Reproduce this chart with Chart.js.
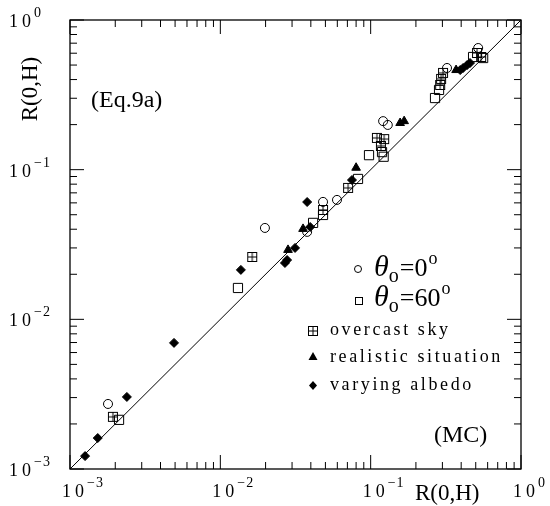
<!DOCTYPE html>
<html>
<head>
<meta charset="utf-8">
<script src="https://cdn.jsdelivr.net/npm/chart.js@4"></script>
<style>
  html, body { margin: 0; padding: 0; background: #fff; }
  canvas { display: block; }
</style>
</head>
<body>
<canvas id="myChart" width="550" height="506"></canvas>
<script>
// theta_0 = 0 deg (open circles)
const circX = [0.00179, 0.0198, 0.0378, 0.0482, 0.0597, 0.121, 0.130, 0.322, 0.519];
const circY = [0.00272, 0.0408, 0.0384, 0.0609, 0.0628, 0.211, 0.199, 0.478, 0.650];
// theta_0 = 60 deg (open squares)
const sqX = [0.00212, 0.0131, 0.0414, 0.0482, 0.0824, 0.0975, 0.119, 0.122, 0.268, 0.285, 0.480, 0.560];
const sqY = [0.00213, 0.0162, 0.0441, 0.0498, 0.0867, 0.125, 0.131, 0.122, 0.301, 0.341, 0.566, 0.557];
// overcast sky
const ovX = [0.00193, 0.0163, 0.0482, 0.0708, 0.110, 0.123, 0.117, 0.303, 0.294, 0.290, 0.510, 0.543];
const ovY = [0.00223, 0.0261, 0.0538, 0.0755, 0.163, 0.160, 0.144, 0.443, 0.404, 0.368, 0.602, 0.566];
// realistic situation
const triX = [0.0282, 0.0355, 0.0800, 0.157, 0.167, 0.370];
const triY = [0.0291, 0.0402, 0.103, 0.205, 0.211, 0.463];
// varying albedo
const diaX = [0.00126, 0.00153, 0.00239, 0.00492, 0.0137, 0.0269, 0.0278, 0.0314, 0.0378, 0.0396, 0.0751, 0.394, 0.412, 0.438, 0.458];
const diaY = [0.00122, 0.00161, 0.00303, 0.00696, 0.0214, 0.0238, 0.0249, 0.0300, 0.0608, 0.0414, 0.0853, 0.463, 0.478, 0.500, 0.516];
// 1:1 line
const lineX = [0.001, 1];
const lineY = [0.001, 1];

const tickValues = [0.001, 0.01, 0.1, 1];
const tickExps = ['\u22123', '\u22122', '\u22121', '0'];

const pts = (xs, ys) => xs.map((x, i) => ({x: x, y: ys[i]}));

// square with a cross inside
const ovImg = document.createElement('canvas');
ovImg.width = 12; ovImg.height = 12;
(function () {
  const c = ovImg.getContext('2d');
  c.strokeStyle = '#000';
  c.lineWidth = 1;
  c.strokeRect(1.5, 1.5, 9, 9);
  c.beginPath();
  c.moveTo(6, 1.5); c.lineTo(6, 10.5);
  c.moveTo(1.5, 6); c.lineTo(10.5, 6);
  c.stroke();
})();

const SERIF = '"Liberation Serif", "DejaVu Serif", serif';

function drawPow(ctx, exp, x, y) {
  ctx.save();
  ctx.textAlign = 'left';
  ctx.textBaseline = 'alphabetic';
  ctx.font = '18px ' + SERIF;
  ctx.letterSpacing = '4px';
  ctx.fillText('10', x, y);
  const w = ctx.measureText('10').width;
  ctx.font = '14px ' + SERIF;
  ctx.letterSpacing = '1px';
  ctx.fillText(exp, x + w - 1, y - 10);
  ctx.restore();
  return w;
}

const framePlugin = {
  id: 'frame',
  afterDraw(chart) {
    const ctx = chart.ctx;
    const a = chart.chartArea;
    const xs = chart.scales.x, ys = chart.scales.y;
    ctx.save();
    ctx.strokeStyle = '#000';
    ctx.fillStyle = '#000';
    ctx.lineWidth = 1.3;
    ctx.strokeRect(a.left, a.top, a.right - a.left, a.bottom - a.top);

    // inward ticks on all sides
    ctx.lineWidth = 1;
    ctx.beginPath();
    for (let d = -3; d <= 0; d++) {
      for (let m = 1; m <= 9; m++) {
        const v = m * Math.pow(10, d);
        if (v > 1.0001) break;
        const len = m === 1 ? 14 : 7;
        const px = xs.getPixelForValue(v);
        const py = ys.getPixelForValue(v);
        ctx.moveTo(px, a.bottom); ctx.lineTo(px, a.bottom - len);
        ctx.moveTo(px, a.top); ctx.lineTo(px, a.top + len);
        ctx.moveTo(a.left, py); ctx.lineTo(a.left + len, py);
        ctx.moveTo(a.right, py); ctx.lineTo(a.right - len, py);
      }
    }
    ctx.stroke();

    // tick labels
    tickValues.forEach((v, i) => {
      const px = xs.getPixelForValue(v);
      drawPow(ctx, tickExps[i], px - 8, a.bottom + 28);
      const py = ys.getPixelForValue(v);
      drawPow(ctx, tickExps[i], 9, py + 7);
    });

    // axis titles
    ctx.font = '23px ' + SERIF;
    ctx.textBaseline = 'middle';
    ctx.textAlign = 'left';
    ctx.fillText('R(0,H)', 415, 494);
    ctx.save();
    ctx.translate(31, 89);
    ctx.rotate(-Math.PI / 2);
    ctx.textAlign = 'center';
    ctx.fillText('R(0,H)', 0, 0);
    ctx.restore();

    // annotations
    ctx.font = '24px ' + SERIF;
    ctx.fillText('(Eq.9a)', 91, 101);
    ctx.fillText('(MC)', 434, 436);

    // legend: theta lines
    ctx.lineWidth = 1;
    ctx.beginPath();
    ctx.arc(358, 269, 3.5, 0, Math.PI * 2);
    ctx.stroke();
    ctx.strokeRect(355.5, 297.5, 7, 7);
    const thetaLine = (x, y, val) => {
      ctx.textBaseline = 'alphabetic';
      ctx.font = 'italic 30px ' + SERIF;
      ctx.fillText('\u03b8', x, y);
      let cx = x + ctx.measureText('\u03b8').width;
      ctx.font = '20px ' + SERIF;
      ctx.fillText('o', cx, y + 6);
      cx += ctx.measureText('o').width + 1;
      ctx.font = '26px ' + SERIF;
      const s = '=' + val;
      ctx.fillText(s, cx, y);
      cx += ctx.measureText(s).width;
      ctx.font = '18px ' + SERIF;
      ctx.fillText('o', cx + 1, y - 12);
    };
    thetaLine(374, 276, '0');
    thetaLine(374, 306, '60');

    // legend: symbol lines
    ctx.drawImage(ovImg, 307, 325, 12, 12);
    ctx.beginPath();
    ctx.moveTo(313, 352); ctx.lineTo(317.5, 360); ctx.lineTo(308.5, 360); ctx.closePath();
    ctx.fill();
    ctx.beginPath();
    ctx.moveTo(313, 381); ctx.lineTo(317, 385.5); ctx.lineTo(313, 390); ctx.lineTo(309, 385.5); ctx.closePath();
    ctx.fill();
    ctx.font = '18px ' + SERIF;
    ctx.letterSpacing = '2.6px';
    ctx.textBaseline = 'middle';
    ctx.fillText('overcast sky', 330, 330);
    ctx.fillText('realistic situation', 330, 357);
    ctx.fillText('varying albedo', 330, 385);
    ctx.restore();
  }
};

const data = {
  datasets: [
    {
      label: '1:1',
      data: pts(lineX, lineY),
      showLine: true,
      borderColor: '#000',
      borderWidth: 1,
      pointRadius: 0
    },
    {
      label: 'theta0 = 0',
      data: pts(circX, circY),
      pointStyle: 'circle',
      pointRadius: 4.5,
      borderColor: '#000',
      borderWidth: 1,
      backgroundColor: 'rgba(0,0,0,0)'
    },
    {
      label: 'theta0 = 60',
      data: pts(sqX, sqY),
      pointStyle: 'rect',
      pointRadius: 6.5,
      borderColor: '#000',
      borderWidth: 1,
      backgroundColor: 'rgba(0,0,0,0)'
    },
    {
      label: 'overcast sky',
      data: pts(ovX, ovY),
      pointStyle: ovImg,
      borderColor: '#000',
      backgroundColor: 'rgba(0,0,0,0)'
    },
    {
      label: 'realistic situation',
      data: pts(triX, triY),
      pointStyle: 'triangle',
      pointRadius: 5,
      borderColor: '#000',
      borderWidth: 1,
      backgroundColor: '#000'
    },
    {
      label: 'varying albedo',
      data: pts(diaX, diaY),
      pointStyle: 'rectRot',
      pointRadius: 4.5,
      borderColor: '#000',
      borderWidth: 1,
      backgroundColor: '#000'
    }
  ]
};

const config = {
  type: 'scatter',
  data: data,
  options: {
    responsive: false,
    animation: false,
    devicePixelRatio: 1,
    layout: { padding: { left: 70, top: 20, right: 29, bottom: 37 } },
    plugins: { legend: { display: false }, tooltip: { enabled: false } },
    scales: {
      x: { type: 'logarithmic', min: 0.001, max: 1, display: false },
      y: { type: 'logarithmic', min: 0.001, max: 1, display: false }
    }
  },
  plugins: [framePlugin]
};

const chart = new Chart(document.getElementById('myChart'), config);
</script>
</body>
</html>
